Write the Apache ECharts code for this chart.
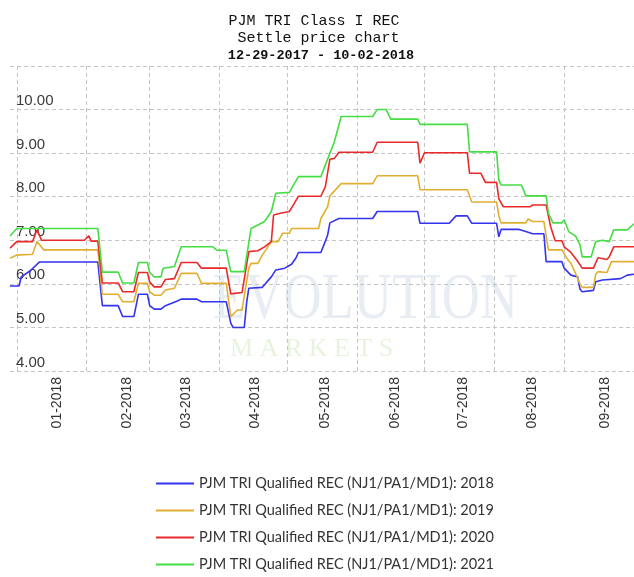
<!DOCTYPE html>
<html>
<head>
<meta charset="utf-8">
<title>PJM TRI Class I REC</title>
<script src="https://cdn.jsdelivr.net/npm/echarts@6/dist/echarts.min.js"></script>
<style>
    html, body { margin: 0; padding: 0; background: #fff; }
    #chart { width: 634px; height: 577px; }
</style>
</head>
<body>
<div id="chart"></div>
<script>
// legend names / colours
var seriesNames = [
    'PJM TRI Qualified REC (NJ1/PA1/MD1): 2018',
    'PJM TRI Qualified REC (NJ1/PA1/MD1): 2019',
    'PJM TRI Qualified REC (NJ1/PA1/MD1): 2020',
    'PJM TRI Qualified REC (NJ1/PA1/MD1): 2021'
];
var seriesColors = ['#3333f0', '#e0b030', '#ea2a2a', '#44dd44'];

// settle prices (date, price)
var prices2018 = [
    ['2017-12-29', 5.95], ['2018-01-02', 5.95], ['2018-01-03', 6.16], ['2018-01-07', 6.3], ['2018-01-11', 6.5],
    ['2018-02-06', 6.5], ['2018-02-08', 5.5], ['2018-02-15', 5.5], ['2018-02-17', 5.25], ['2018-02-22', 5.25],
    ['2018-02-24', 5.76], ['2018-02-28', 5.76], ['2018-03-01', 5.5], ['2018-03-03', 5.42], ['2018-03-06', 5.42],
    ['2018-03-08', 5.5], ['2018-03-13', 5.6], ['2018-03-15', 5.65], ['2018-03-22', 5.65], ['2018-03-24', 5.59],
    ['2018-04-04', 5.59], ['2018-04-06', 5.1], ['2018-04-07', 5.0], ['2018-04-12', 5.0], ['2018-04-13', 5.55],
    ['2018-04-14', 5.9], ['2018-04-20', 5.92], ['2018-04-24', 6.16], ['2018-04-26', 6.32], ['2018-04-30', 6.36],
    ['2018-05-03', 6.45], ['2018-05-05', 6.6], ['2018-05-06', 6.72], ['2018-05-16', 6.72], ['2018-05-18', 6.98],
    ['2018-05-19', 7.12], ['2018-05-20', 7.4], ['2018-05-24', 7.5], ['2018-06-08', 7.5], ['2018-06-10', 7.66],
    ['2018-06-28', 7.66], ['2018-06-29', 7.39], ['2018-07-12', 7.39], ['2018-07-15', 7.56], ['2018-07-20', 7.56],
    ['2018-07-22', 7.39], ['2018-08-02', 7.39], ['2018-08-03', 7.08], ['2018-08-04', 7.25], ['2018-08-12', 7.25],
    ['2018-08-15', 7.2], ['2018-08-18', 7.15], ['2018-08-23', 7.15], ['2018-08-24', 6.51], ['2018-08-31', 6.51],
    ['2018-09-01', 6.36], ['2018-09-04', 6.2], ['2018-09-07', 6.16], ['2018-09-08', 5.88], ['2018-09-09', 5.82],
    ['2018-09-14', 5.85], ['2018-09-15', 6.05], ['2018-09-18', 6.09], ['2018-09-26', 6.12], ['2018-09-29', 6.2],
    ['2018-10-02', 6.22]
];
var prices2019 = [
    ['2017-12-29', 6.59], ['2018-01-01', 6.66], ['2018-01-08', 6.68], ['2018-01-10', 6.97], ['2018-01-13', 6.78],
    ['2018-02-06', 6.78], ['2018-02-08', 5.76], ['2018-02-15', 5.76], ['2018-02-17', 5.59], ['2018-02-22', 5.59],
    ['2018-02-24', 6.01], ['2018-02-28', 6.01], ['2018-03-01', 5.82], ['2018-03-03', 5.74], ['2018-03-06', 5.74],
    ['2018-03-08', 5.86], ['2018-03-12', 5.9], ['2018-03-15', 6.24], ['2018-03-22', 6.24], ['2018-03-24', 6.01],
    ['2018-04-04', 6.01], ['2018-04-06', 5.25], ['2018-04-09', 5.4], ['2018-04-11', 5.4], ['2018-04-14', 6.36],
    ['2018-04-15', 6.47], ['2018-04-18', 6.47], ['2018-04-20', 6.66], ['2018-04-24', 6.97], ['2018-04-27', 6.97],
    ['2018-04-29', 7.16], ['2018-05-02', 7.16], ['2018-05-03', 7.27], ['2018-05-15', 7.27], ['2018-05-16', 7.5],
    ['2018-05-19', 7.77], ['2018-05-20', 8.02], ['2018-05-25', 8.3], ['2018-06-08', 8.3], ['2018-06-10', 8.48],
    ['2018-06-28', 8.48], ['2018-06-29', 8.16], ['2018-07-20', 8.16], ['2018-07-22', 7.88], ['2018-08-02', 7.88],
    ['2018-08-03', 7.56], ['2018-08-04', 7.4], ['2018-08-15', 7.4], ['2018-08-16', 7.49], ['2018-08-18', 7.43],
    ['2018-08-23', 7.43], ['2018-08-25', 6.78], ['2018-08-31', 6.78], ['2018-09-02', 6.6], ['2018-09-04', 6.47],
    ['2018-09-07', 6.13], ['2018-09-08', 6.0], ['2018-09-09', 5.92], ['2018-09-14', 5.92], ['2018-09-15', 6.22],
    ['2018-09-16', 6.28], ['2018-09-20', 6.26], ['2018-09-22', 6.51], ['2018-10-02', 6.51]
];
var prices2020 = [
    ['2017-12-29', 6.82], ['2018-01-01', 6.97], ['2018-01-08', 6.97], ['2018-01-10', 7.24], ['2018-01-12', 7.0],
    ['2018-01-31', 7.0], ['2018-02-02', 7.1], ['2018-02-03', 6.98], ['2018-02-06', 6.98], ['2018-02-08', 6.02],
    ['2018-02-15', 6.02], ['2018-02-17', 5.82], ['2018-02-22', 5.82], ['2018-02-24', 6.26], ['2018-02-28', 6.26],
    ['2018-03-01', 6.04], ['2018-03-03', 5.93], ['2018-03-06', 5.93], ['2018-03-08', 6.1], ['2018-03-12', 6.12],
    ['2018-03-15', 6.49], ['2018-03-22', 6.49], ['2018-03-24', 6.36], ['2018-04-04', 6.36], ['2018-04-06', 5.77],
    ['2018-04-11', 5.8], ['2018-04-14', 6.74], ['2018-04-18', 6.76], ['2018-04-21', 6.85], ['2018-04-24', 6.97],
    ['2018-04-25', 7.58], ['2018-04-28', 7.62], ['2018-05-02', 7.66], ['2018-05-04', 7.83], ['2018-05-06', 8.01],
    ['2018-05-16', 8.01], ['2018-05-18', 8.23], ['2018-05-20', 8.86], ['2018-05-22', 8.88], ['2018-05-24', 9.02],
    ['2018-06-08', 9.02], ['2018-06-10', 9.25], ['2018-06-28', 9.25], ['2018-06-29', 8.77], ['2018-07-01', 9.01],
    ['2018-07-20', 9.01], ['2018-07-21', 8.54], ['2018-07-26', 8.54], ['2018-07-28', 8.33], ['2018-08-02', 8.33],
    ['2018-08-03', 7.95], ['2018-08-05', 7.77], ['2018-08-17', 7.77], ['2018-08-18', 7.81], ['2018-08-24', 7.81],
    ['2018-08-26', 7.31], ['2018-08-28', 6.99], ['2018-08-31', 6.99], ['2018-09-01', 6.85], ['2018-09-04', 6.72],
    ['2018-09-07', 6.52], ['2018-09-09', 6.36], ['2018-09-14', 6.36], ['2018-09-16', 6.6], ['2018-09-20', 6.56],
    ['2018-09-21', 6.62], ['2018-09-23', 6.85], ['2018-10-02', 6.85]
];
var prices2021 = [
    ['2017-12-29', 7.1], ['2018-01-01', 7.27], ['2018-02-06', 7.27], ['2018-02-08', 6.27], ['2018-02-15', 6.27],
    ['2018-02-17', 6.02], ['2018-02-22', 6.02], ['2018-02-24', 6.49], ['2018-02-28', 6.49], ['2018-03-01', 6.26],
    ['2018-03-03', 6.16], ['2018-03-06', 6.16], ['2018-03-07', 6.36], ['2018-03-12', 6.4], ['2018-03-15', 6.85],
    ['2018-03-29', 6.85], ['2018-03-31', 6.77], ['2018-04-04', 6.77], ['2018-04-06', 6.28], ['2018-04-12', 6.28],
    ['2018-04-13', 6.62], ['2018-04-15', 7.27], ['2018-04-18', 7.35], ['2018-04-21', 7.43], ['2018-04-24', 7.66],
    ['2018-04-26', 8.08], ['2018-05-02', 8.1], ['2018-05-03', 8.19], ['2018-05-06', 8.46], ['2018-05-16', 8.46],
    ['2018-05-18', 8.73], ['2018-05-22', 9.26], ['2018-05-25', 9.84], ['2018-06-08', 9.84], ['2018-06-10', 10.0],
    ['2018-06-14', 10.0], ['2018-06-16', 9.78], ['2018-06-28', 9.78], ['2018-06-29', 9.66], ['2018-07-20', 9.66],
    ['2018-07-21', 9.03], ['2018-08-02', 9.03], ['2018-08-03', 8.38], ['2018-08-04', 8.27], ['2018-08-13', 8.27],
    ['2018-08-15', 8.02], ['2018-08-24', 8.02], ['2018-08-25', 7.62], ['2018-08-27', 7.4], ['2018-08-31', 7.4],
    ['2018-09-01', 7.47], ['2018-09-03', 7.2], ['2018-09-06', 7.1], ['2018-09-08', 6.9], ['2018-09-09', 6.62],
    ['2018-09-13', 6.62], ['2018-09-15', 6.97], ['2018-09-18', 7.0], ['2018-09-21', 6.97], ['2018-09-23', 7.24],
    ['2018-09-29', 7.24], ['2018-10-02', 7.38]
];
var allPrices = [prices2018, prices2019, prices2020, prices2021];

// x axis: grid lines on month starts, labels in the middle of the month
var monthStarts = ['2018-01-01', '2018-02-01', '2018-03-01', '2018-04-01', '2018-05-01',
                   '2018-06-01', '2018-07-01', '2018-08-01', '2018-09-01'];
var labelDates = ['2018-01-19', '2018-02-19', '2018-03-17', '2018-04-17', '2018-05-18',
                  '2018-06-18', '2018-07-18', '2018-08-18', '2018-09-19'];

var chart = echarts.init(document.getElementById('chart'), null, {renderer: 'canvas'});

var gridLine = {show: true, lineStyle: {color: '#c4c4c4', type: [4, 3], width: 1}};

var option = {
    animation: false,
    backgroundColor: '#fff',
    title: [{
        text: 'PJM TRI Class I REC\n Settle price chart',
        left: 309, top: 8, textAlign: 'center',
        textStyle: {fontFamily: 'Liberation Mono', fontSize: 15, fontWeight: 'normal', color: '#111', lineHeight: 17}
    }, {
        text: '12-29-2017 - 10-02-2018',
        left: 316, top: 43, textAlign: 'center',
        textStyle: {fontFamily: 'Liberation Mono', fontSize: 13.5, fontWeight: 'bold', color: '#111', lineHeight: 16}
    }],
    // faint watermark behind the plot
    graphic: [{
        type: 'text', left: 213, top: 268, silent: true, z: -10, scaleX: 0.8,
        style: {text: 'EVOLUTION', font: '66px "Liberation Serif"', fill: 'rgba(190,200,220,0.35)'}
    }, {
        type: 'text', left: 230, top: 336, silent: true, z: -10,
        style: {text: 'M A R K E T S', font: '26px "Liberation Serif"', fill: 'rgba(190,220,160,0.35)'}
    }],
    legend: {
        orient: 'vertical', left: 156, top: 476, height: 110, padding: 0,
        itemWidth: 38, itemHeight: 14, itemGap: 12,
        icon: 'path://M0,0 L38,0 L38,2 L0,2 Z',
        textStyle: {fontFamily: 'Lato', fontSize: 14.5, color: '#333'},
        data: seriesNames
    },
    grid: {left: 10, right: 0, top: 66, bottom: 206, containLabel: false},
    xAxis: {
        type: 'time',
        min: '2017-12-29', max: '2018-10-02',
        axisLine: {show: false},
        axisTick: {show: false, customValues: monthStarts},
        splitLine: gridLine,
        axisLabel: {
            customValues: labelDates,
            formatter: '{MM}-{yyyy}',
            rotate: 90, margin: 6,
            fontFamily: 'Liberation Sans', fontSize: 14, color: '#333'
        }
    },
    yAxis: {
        type: 'value',
        min: 4, max: 11, interval: 1,
        axisLine: {show: false},
        axisTick: {show: false},
        splitLine: gridLine,
        axisLabel: {
            inside: true, margin: 6, showMaxLabel: false,
            verticalAlign: 'bottom', padding: [0, 0, 1, 0],
            fontFamily: 'Liberation Sans', fontSize: 15, color: '#3a3a3a',
            formatter: function (v) { return v.toFixed(2); }
        }
    },
    series: allPrices.map(function (d, i) {
        return {
            name: seriesNames[i],
            type: 'line',
            symbol: 'none',
            color: seriesColors[i],
            lineStyle: {width: 1.6, color: seriesColors[i]},
            data: d
        };
    })
};
chart.setOption(option);
</script>
</body>
</html>
